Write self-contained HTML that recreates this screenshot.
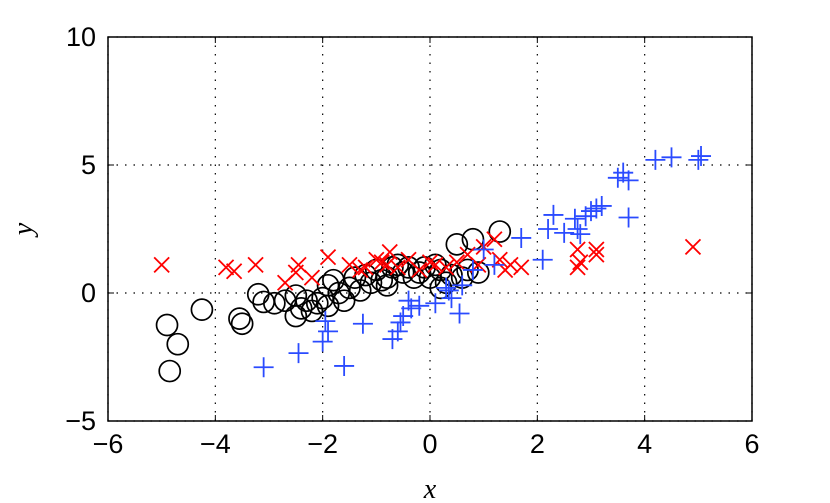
<!DOCTYPE html>
<html><head><meta charset="utf-8"><style>body{margin:0;background:#fff}svg{display:block}</style></head>
<body>
<svg id="chart" width="830" height="503" xmlns="http://www.w3.org/2000/svg"></svg>
<script>
const xTicks=[-6,-4,-2,0,2,4,6];
const yTicks=[-5,0,5,10];
const circleX=[-4.9,-4.7,-4.85,-4.25,-3.55,-3.5,-3.2,-3.1,-2.9,-2.7,-2.5,-2.4,-2.3,-2.2,-2.1,-2.0,-1.9,-1.8,-1.7,-1.6,-1.5,-1.4,-1.3,-1.2,-1.1,-1.0,-0.9,-0.8,-0.7,-0.6,-0.5,-0.4,-0.3,-0.2,-0.1,0.0,0.1,0.2,0.3,0.4,0.5,0.6,0.7,0.8,0.9,1.3,-2.5,-1.9,-0.8,0.2];
const circleY=[-1.25,-2.0,-3.05,-0.65,-1.0,-1.2,-0.05,-0.35,-0.4,-0.3,-0.1,-0.6,-0.3,-0.7,-0.4,-0.2,0.3,0.5,0.0,-0.3,0.2,0.6,0.1,0.7,0.4,0.9,0.5,0.6,1.0,1.1,0.8,1.0,0.6,0.8,1.0,0.6,1.1,0.9,0.4,0.7,1.9,0.6,0.9,2.1,0.8,2.4,-0.9,-0.5,0.3,0.2];
const crossX=[-5.0,-3.8,-3.65,-3.25,-2.5,-2.45,-2.2,-1.9,-1.5,-1.3,-1.2,-1.0,-0.9,-0.8,-0.75,-0.6,-0.4,-0.2,0.0,0.1,0.3,0.5,0.7,0.9,1.0,1.2,1.3,1.4,1.7,2.75,2.75,2.8,3.1,3.1,4.9,1.5,-2.7];
const crossY=[1.1,1.0,0.85,1.1,0.8,1.1,0.6,1.4,1.1,0.9,1.0,1.3,1.2,1.1,1.6,1.0,1.3,0.9,1.2,1.1,1.0,1.2,1.5,1.1,1.8,2.1,1.3,0.9,1.0,1.7,1.0,1.2,1.5,1.7,1.8,1.1,0.4];
const plusX=[-3.1,-2.45,-2.0,-1.6,-1.95,-1.9,-1.25,-0.7,-0.6,-0.55,-0.5,-0.4,-0.35,-0.2,0.1,0.3,0.35,0.4,0.55,0.6,0.8,1.0,1.2,1.7,2.1,2.3,2.2,2.5,2.7,2.75,2.9,3.0,3.1,3.2,3.5,3.6,3.7,3.7,4.2,4.5,5.0,5.05,2.8];
const plusY=[-2.9,-2.35,-1.9,-2.85,-1.1,-1.5,-1.2,-1.8,-1.5,-1.15,-0.9,-0.3,-0.6,-0.5,-0.4,0.2,0.1,-0.2,-0.8,0.3,0.9,1.7,1.1,2.15,1.3,3.05,2.5,2.35,2.9,2.5,3.0,3.2,3.3,3.4,4.5,4.7,4.4,2.95,5.2,5.3,5.2,5.35,2.3];
const L=108,R=752,T=37,B=421;
const sx=v=>L+(v+6)/12*(R-L);
const sy=v=>B-(v+5)/15*(B-T);
const svg=document.getElementById('chart');
const NS='http://www.w3.org/2000/svg';
function mk(tag,attrs,parent){const e=document.createElementNS(NS,tag);for(const k in attrs)e.setAttribute(k,attrs[k]);(parent||svg).appendChild(e);return e;}
const frame=mk('rect',{x:L,y:T,width:R-L,height:B-T,fill:'#fff',stroke:'none'});


xTicks.forEach(t=>{
  const g=mk('line',{x1:sx(t),x2:sx(t),y1:T,y2:B,stroke:'#000','stroke-width':1.2,'stroke-dasharray':'1.5 7'});
  
  
  mk('line',{x1:sx(t),x2:sx(t),y1:B,y2:B-6,stroke:'#000','stroke-width':1});
  mk('line',{x1:sx(t),x2:sx(t),y1:T,y2:T+6,stroke:'#000','stroke-width':1});
  const tx=mk('text',{x:sx(t),y:B+32,'text-anchor':'middle','font-family':'Liberation Sans, sans-serif','font-size':27});
  tx.textContent=(t<0?'\u2212'+(-t):t);
  
  
});
yTicks.forEach(t=>{
  const g=mk('line',{x1:L,x2:R,y1:sy(t),y2:sy(t),stroke:'#000','stroke-width':1.2,'stroke-dasharray':'1.5 7'});
  
  
  mk('line',{x1:L,x2:L+6,y1:sy(t),y2:sy(t),stroke:'#000','stroke-width':1});
  mk('line',{x1:R,x2:R-6,y1:sy(t),y2:sy(t),stroke:'#000','stroke-width':1});
  const tx=mk('text',{x:L-12,y:sy(t)+9,'text-anchor':'end','font-family':'Liberation Sans, sans-serif','font-size':27});
  tx.textContent=(t<0?'\u2212'+(-t):t);
  
  
});
const box=mk('rect',{x:L,y:T,width:R-L,height:B-T,fill:'none',stroke:'#000','stroke-width':1.5});


circleX.forEach((v,i)=>{
  const c=mk('circle',{cx:sx(v),cy:sy(circleY[i]),r:10.5,fill:'none',stroke:'#000','stroke-width':1.7});
  
  
});
crossX.forEach((v,i)=>{
  const x=sx(v),y=sy(crossY[i]),d=7.5;
  const p=mk('path',{d:`M${x-d},${y-d}L${x+d},${y+d}M${x-d},${y+d}L${x+d},${y-d}`,stroke:'#f00','stroke-width':1.8,fill:'none'});
  
  
});
plusX.forEach((v,i)=>{
  const x=sx(v),y=sy(plusY[i]),d=10;
  const p=mk('path',{d:`M${x-d},${y}L${x+d},${y}M${x},${y-d}L${x},${y+d}`,stroke:'#2a4bff','stroke-width':1.8,fill:'none'});
  
  
});
const xl=mk('text',{x:430,y:498,'text-anchor':'middle','font-family':'Liberation Serif, serif','font-style':'italic','font-size':28});
xl.textContent='x';


const yl=mk('text',{x:32,y:229,'text-anchor':'middle','font-family':'Liberation Serif, serif','font-style':'italic','font-size':28,transform:'rotate(-90 32 229)'});
yl.textContent='y';


</script>
</body></html>
